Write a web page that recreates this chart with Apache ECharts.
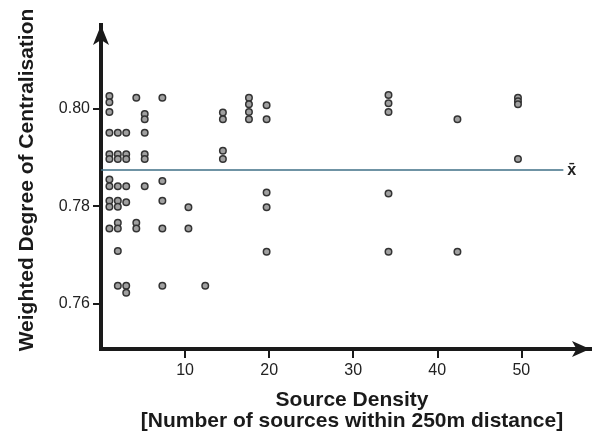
<!DOCTYPE html>
<html>
<head>
<meta charset="utf-8">
<script src="https://cdn.jsdelivr.net/npm/echarts@6/dist/echarts.min.js"></script>
<style>html,body{margin:0;padding:0;background:#fff}#c{width:600px;height:437px}</style>
</head>
<body>
<div id="c"></div>
<script>
// Source density (x) and weighted degree of centralisation (y)
const density = [
  1,1,1,1,1,1,1,1,1,1,1,
  2,2,2,2,2,2,2,2,2,2,
  3,3,3,3,3,3,3,
  4.2,4.2,4.2,
  5.2,5.2,5.2,5.2,5.2,5.2,
  7.3,7.3,7.3,7.3,7.3,
  10.4,10.4,
  12.4,
  14.5,14.5,14.5,14.5,
  17.6,17.6,17.6,17.6,
  19.7,19.7,19.7,19.7,19.7,
  34.2,34.2,34.2,34.2,34.2,
  42.4,42.4,
  49.6,49.6,49.6,49.6
];
const centralisation = [
  0.8027,0.8014,0.7994,0.7951,0.7907,0.7897,0.7855,0.7841,0.7811,0.7799,0.7754,
  0.7951,0.7907,0.7897,0.7841,0.7811,0.7799,0.7766,0.7754,0.7708,0.7636,
  0.7951,0.7907,0.7897,0.7841,0.7808,0.7636,0.7622,
  0.8023,0.7766,0.7754,
  0.7990,0.7979,0.7951,0.7907,0.7897,0.7841,
  0.8023,0.7852,0.7811,0.7754,0.7636,
  0.7798,0.7754,
  0.7636,
  0.7993,0.7979,0.7914,0.7897,
  0.8023,0.8010,0.7994,0.7979,
  0.8008,0.7979,0.7828,0.7798,0.7706,
  0.8029,0.8012,0.7994,0.7826,0.7706,
  0.7979,0.7706,
  0.8023,0.8016,0.8010,0.7897
];
const meanValue = 0.7874;
const meanLineEnd = 55;
const xTicks = [10, 20, 30, 40, 50];
const yTicks = [0.76, 0.78, 0.80];
const xTitle = 'Source Density';
const xSubTitle = '[Number of sources within 250m distance]';
const yTitle = 'Weighted Degree of Centralisation';

const points = density.map((d, i) => [d, centralisation[i]]);
const chart = echarts.init(document.getElementById('c'), null, {renderer: 'canvas'});
const font = 'Liberation Sans, Arial, sans-serif';
chart.setOption({
  animation: false,
  backgroundColor: '#fff',
  grid: {left: 101, right: 10, top: 25, bottom: 88, containLabel: false},
  xAxis: {
    type: 'value', min: 0, max: 58.17,
    splitLine: {show: false},
    axisLine: {show: true, onZero: false, symbol: ['none', 'arrow'], symbolSize: [12, 18],
      lineStyle: {color: '#1a1a1a', width: 4, cap: 'square'}},
    axisTick: {show: true, length: 9, customValues: xTicks, lineStyle: {color: '#1a1a1a', width: 2}},
    axisLabel: {customValues: xTicks, fontSize: 16, color: '#222', margin: 14, fontFamily: font}
  },
  yAxis: {
    type: 'value', min: 0.7506, max: 0.8173,
    splitLine: {show: false},
    axisLine: {show: true, onZero: false, symbol: ['none', 'arrow'], symbolSize: [12, 20],
      lineStyle: {color: '#1a1a1a', width: 4, cap: 'square'}},
    axisTick: {show: true, length: 8, customValues: yTicks, lineStyle: {color: '#1a1a1a', width: 2}},
    axisLabel: {customValues: yTicks, fontSize: 16, color: '#222', margin: 11, fontFamily: font,
      formatter: v => v.toFixed(2)}
  },
  series: [{
    type: 'scatter',
    data: points,
    symbol: 'circle',
    symbolSize: 6.5,
    itemStyle: {color: '#a0a0a0', borderColor: '#333', borderWidth: 1.5, opacity: 1},
    markLine: {
      silent: true,
      symbol: ['none', 'none'],
      lineStyle: {color: '#3f6f86', width: 1.5, type: 'solid'},
      label: {show: true, position: 'end', formatter: 'x\u0304', color: '#222', fontSize: 16,
        fontWeight: 'bold', fontFamily: font, distance: 4},
      data: [[{coord: [0, meanValue]}, {coord: [meanLineEnd, meanValue]}]]
    },
    z: 3
  }],
  graphic: [
    {type: 'text', x: 352, y: 400, style: {text: xTitle, font: 'bold 21px ' + font, fill: '#1a1a1a',
      align: 'center', verticalAlign: 'middle'}},
    {type: 'text', x: 352, y: 421, style: {text: xSubTitle, font: 'bold 21px ' + font, fill: '#1a1a1a',
      align: 'center', verticalAlign: 'middle'}},
    {type: 'text', x: 27, y: 180, rotation: Math.PI / 2, style: {text: yTitle, font: 'bold 21px ' + font,
      fill: '#1a1a1a', align: 'center', verticalAlign: 'middle'}}
  ]
});
</script>
</body>
</html>
